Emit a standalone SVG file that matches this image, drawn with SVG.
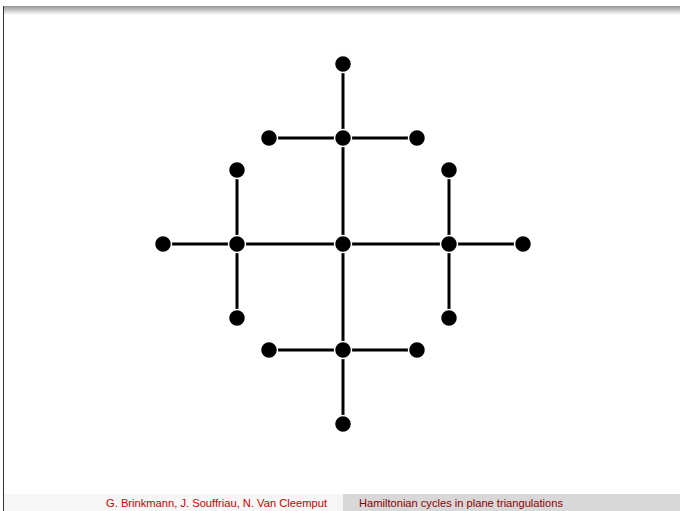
<svg xmlns="http://www.w3.org/2000/svg" width="680" height="511" viewBox="0 0 680 511">
<defs>
<linearGradient id="topg" x1="0" y1="0" x2="0" y2="1">
<stop offset="0" stop-color="#a0a0a0"/>
<stop offset="1" stop-color="#ffffff"/>
</linearGradient>
<style>
.e{stroke:#000;stroke-width:3;fill:none}
.n{fill:#000;stroke:#fff;stroke-width:1.5}
.ft{font-family:"Liberation Sans",Arial,sans-serif;font-size:11px}
</style>
</defs>
<rect x="0" y="0" width="680" height="511" fill="#fff"/>
<rect x="3" y="6" width="677" height="1.2" fill="#999"/>
<rect x="3" y="7" width="677" height="8" fill="url(#topg)"/>
<rect x="3" y="6" width="1" height="505" fill="#333"/>
<rect x="4" y="494" width="339" height="17" fill="#f6f6f6"/>
<rect x="343" y="494" width="337" height="17" fill="#d8d8d8"/>
<text class="ft" x="327" y="507" text-anchor="end" fill="#cc0000" textLength="221" lengthAdjust="spacingAndGlyphs">G. Brinkmann, J. Souffriau, N. Van Cleemput</text>
<text class="ft" x="359" y="507" fill="#8b0000" textLength="204" lengthAdjust="spacingAndGlyphs">Hamiltonian cycles in plane triangulations</text>
<g id="connectors">
<line class="e" x1="343" y1="64" x2="343" y2="138"/>
<line class="e" x1="269" y1="138" x2="417" y2="138"/>
<line class="e" x1="343" y1="138" x2="343" y2="350"/>
<line class="e" x1="237" y1="170" x2="237" y2="318"/>
<line class="e" x1="449" y1="170" x2="449" y2="318"/>
<line class="e" x1="163" y1="244" x2="523" y2="244"/>
<line class="e" x1="269" y1="350" x2="417" y2="350"/>
<line class="e" x1="343" y1="350" x2="343" y2="424"/>
</g>
<g id="n1"><circle class="n" cx="343" cy="64" r="8.5"/></g>
<g id="n2"><circle class="n" cx="269" cy="138" r="8.5"/></g>
<g id="n3"><circle class="n" cx="343" cy="138" r="8.5"/></g>
<g id="n4"><circle class="n" cx="417" cy="138" r="8.5"/></g>
<g id="n5"><circle class="n" cx="237" cy="170" r="8.5"/></g>
<g id="n6"><circle class="n" cx="449" cy="170" r="8.5"/></g>
<g id="n7"><circle class="n" cx="163" cy="244" r="8.5"/></g>
<g id="n8"><circle class="n" cx="237" cy="244" r="8.5"/></g>
<g id="n9"><circle class="n" cx="343" cy="244" r="8.5"/></g>
<g id="n10"><circle class="n" cx="449" cy="244" r="8.5"/></g>
<g id="n11"><circle class="n" cx="523" cy="244" r="8.5"/></g>
<g id="n12"><circle class="n" cx="237" cy="318" r="8.5"/></g>
<g id="n13"><circle class="n" cx="449" cy="318" r="8.5"/></g>
<g id="n14"><circle class="n" cx="269" cy="350" r="8.5"/></g>
<g id="n15"><circle class="n" cx="343" cy="350" r="8.5"/></g>
<g id="n16"><circle class="n" cx="417" cy="350" r="8.5"/></g>
<g id="n17"><circle class="n" cx="343" cy="424" r="8.5"/></g>
</svg>
